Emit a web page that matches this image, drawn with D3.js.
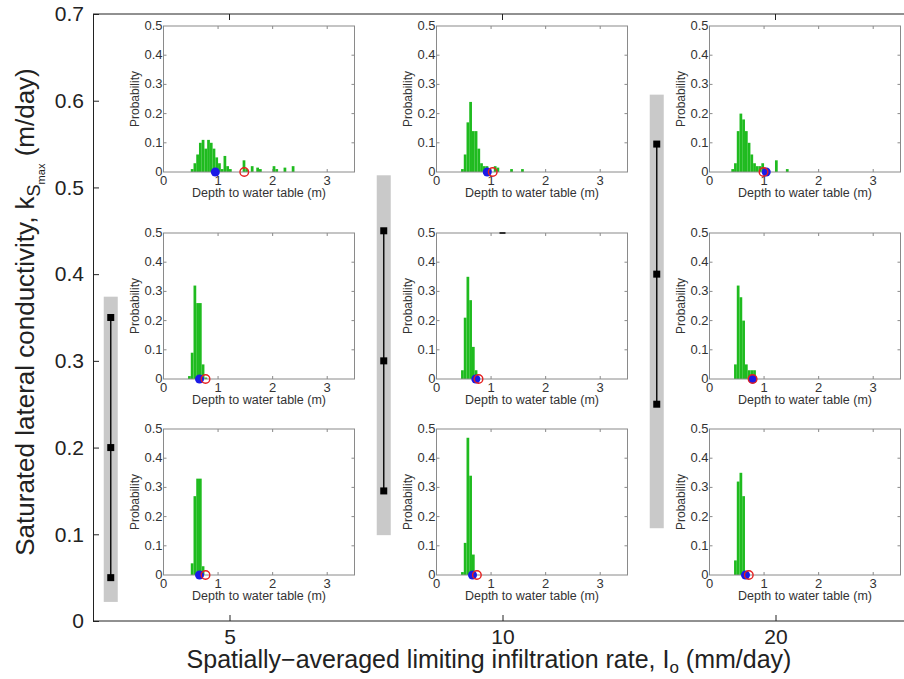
<!DOCTYPE html>
<html>
<head>
<meta charset="utf-8">
<script src="https://cdn.jsdelivr.net/npm/d3@7/dist/d3.min.js"></script>
<style>
body{margin:0;background:#fff}
svg{display:block;font-family:"Liberation Sans",Arial,Helvetica,sans-serif}
</style>
</head>
<body>
<script>
// main axes: limiting infiltration rate categories and ks ticks
var rates = ['5', '10', '20'];
var ksTicks = [0, 0.1, 0.2, 0.3, 0.4, 0.5, 0.6, 0.7];

// ks range for each rate (square markers) and the grey band behind it
var ksLow  = [0.05, 0.15, 0.25];
var ksMid  = [0.20, 0.30, 0.40];
var ksHigh = [0.35, 0.45, 0.55];
var bandLow  = [0.022, 0.099, 0.107];
var bandHigh = [0.374, 0.514, 0.607];

// histograms of depth to water table: [bin left edge (m), probability]
var binWidth = 0.05;
var hist5Top = [[0.50,0.01],[0.55,0.03],[0.60,0.06],[0.65,0.10],[0.70,0.11],[0.75,0.08],[0.80,0.11],[0.85,0.10],
                [0.90,0.08],[0.95,0.05],[1.00,0.03],[1.05,0.01],[1.10,0.055],[1.15,0.02],[1.20,0.01],[1.45,0.04],
                [1.50,0.01],[1.60,0.02],[1.70,0.015],[1.75,0.01],[2.00,0.02],[2.05,0.01],[2.20,0.015],[2.35,0.02]];
var hist5Mid = [[0.45,0.01],[0.50,0.09],[0.55,0.32],[0.60,0.26],[0.65,0.26],[0.70,0.05],[0.75,0.005]];
var hist5Bot = [[0.50,0.04],[0.55,0.27],[0.60,0.33],[0.65,0.33],[0.70,0.03]];
var hist10Top = [[0.45,0.01],[0.50,0.06],[0.55,0.17],[0.60,0.24],[0.65,0.14],[0.70,0.14],[0.75,0.08],[0.80,0.03],
                 [0.85,0.02],[0.90,0.02],[0.95,0.01],[1.05,0.02],[1.10,0.015],[1.35,0.01],[1.55,0.01]];
var hist10Mid = [[0.45,0.03],[0.50,0.21],[0.55,0.35],[0.60,0.27],[0.65,0.11],[0.70,0.03]];
var hist10Bot = [[0.45,0.01],[0.50,0.11],[0.55,0.47],[0.60,0.34],[0.65,0.07]];
var hist20Top = [[0.40,0.01],[0.45,0.03],[0.50,0.14],[0.55,0.20],[0.60,0.18],[0.65,0.14],[0.70,0.10],[0.75,0.06],
                 [0.80,0.03],[0.85,0.02],[0.90,0.02],[0.95,0.03],[1.00,0.01],[1.20,0.04],[1.40,0.01]];
var hist20Mid = [[0.45,0.05],[0.50,0.32],[0.55,0.28],[0.60,0.20],[0.65,0.05],[0.70,0.03],[0.75,0.03],[0.80,0.03]];
var hist20Bot = [[0.45,0.05],[0.50,0.32],[0.55,0.35],[0.60,0.27],[0.65,0.01]];

// filled blue and open red markers on each histogram (m), rows top->bottom, columns 5,10,20
var blueDepth = [[0.95, 0.93, 1.04], [0.66, 0.72, 0.79], [0.66, 0.66, 0.66]];
var redDepth  = [[1.48, 1.03, 0.99], [0.77, 0.77, 0.79], [0.77, 0.74, 0.72]];

var histTicksX = [0, 1, 2, 3];
var histTicksY = [0, 0.1, 0.2, 0.3, 0.4, 0.5];

var hists = [[hist5Top, hist10Top, hist20Top], [hist5Mid, hist10Mid, hist20Mid], [hist5Bot, hist10Bot, hist20Bot]];

var width = 904, height = 679;
var svg = d3.select('body').append('svg').attr('width', width).attr('height', height);

var plotLeft = 93, plotTop = 14, plotBottom = 621;
var xScale = d3.scaleLinear().domain([0.5, 3.5]).range([plotLeft, 912]);
var yScale = d3.scaleLinear().domain([0, 0.7]).range([plotBottom, plotTop]);

// main box: left axis, bottom axis, top line
var yAxis = d3.axisLeft(yScale).tickValues(ksTicks).tickSize(-6).tickSizeOuter(0).tickPadding(9)
    .tickFormat(d => d === 0 ? '0' : d3.format('.1f')(d));
var gy = svg.append('g').attr('transform', `translate(${plotLeft},0)`).call(yAxis);
gy.selectAll('text').attr('font-size', 21).attr('fill', '#222');

var xAxis = d3.axisBottom(xScale).tickValues([1, 2, 3]).tickSize(-6).tickSizeOuter(0).tickPadding(8)
    .tickFormat((d, i) => rates[i]);
var gx = svg.append('g').attr('transform', `translate(0,${plotBottom})`).call(xAxis);
gx.selectAll('text').attr('font-size', 21).attr('fill', '#222');
gx.select('.domain').attr('d', `M${plotLeft},0H${width}`);

svg.append('line').attr('x1', plotLeft).attr('x2', width).attr('y1', plotTop).attr('y2', plotTop).attr('stroke', '#222');
svg.selectAll('.topTick').data([1, 2, 3]).enter().append('line')
    .attr('x1', d => xScale(d)).attr('x2', d => xScale(d))
    .attr('y1', plotTop).attr('y2', plotTop + 6).attr('stroke', '#222');
svg.selectAll('.domain, .tick line').attr('stroke', '#222');

// grey bands with ks range
var barOffset = -0.435;
var bands = svg.append('g');
rates.forEach(function(r, i) {
    var cx = xScale(i + 1 + barOffset);
    bands.append('rect').attr('x', cx - 7).attr('width', 14)
        .attr('y', yScale(bandHigh[i])).attr('height', yScale(bandLow[i]) - yScale(bandHigh[i]))
        .attr('fill', '#c9c9c9');
    bands.append('line').attr('x1', cx).attr('x2', cx)
        .attr('y1', yScale(ksHigh[i])).attr('y2', yScale(ksLow[i]))
        .attr('stroke', '#111').attr('stroke-width', 1.5);
    [ksLow[i], ksMid[i], ksHigh[i]].forEach(function(k) {
        bands.append('rect').attr('x', cx - 3.5).attr('y', yScale(k) - 3.5)
            .attr('width', 7).attr('height', 7).attr('fill', '#000');
    });
});

// inset histograms
var insetTop = [26, 233, 429];
var insetH = 146, insetW = 191, insetShift = -66;

function drawInset(row, col) {
    var x0 = xScale(col + 1) + insetShift;
    var y0 = insetTop[row];
    var ix = d3.scaleLinear().domain([0, 3.5]).range([x0, x0 + insetW]);
    var iy = d3.scaleLinear().domain([0, 0.5]).range([y0 + insetH, y0]);
    var g = svg.append('g');

    g.selectAll('rect.bar').data(hists[row][col]).enter().append('rect')
        .attr('x', d => ix(d[0]))
        .attr('width', d => ix(d[0] + binWidth) - ix(d[0]))
        .attr('y', d => iy(d[1]))
        .attr('height', d => iy(0) - iy(d[1]))
        .attr('fill', '#1fbb1f');

    // box + inward ticks on all sides
    g.append('rect').attr('x', x0).attr('y', y0).attr('width', insetW).attr('height', insetH)
        .attr('fill', 'none').attr('stroke', '#8a8a8a').attr('stroke-width', 1);
    histTicksX.slice(1).forEach(function(t) {
        g.append('line').attr('x1', ix(t)).attr('x2', ix(t)).attr('y1', iy(0)).attr('y2', iy(0) - 3).attr('stroke', '#8a8a8a');
        g.append('line').attr('x1', ix(t)).attr('x2', ix(t)).attr('y1', iy(0.5)).attr('y2', iy(0.5) + 3).attr('stroke', '#8a8a8a');
    });
    histTicksY.slice(1, -1).forEach(function(t) {
        g.append('line').attr('x1', ix(0)).attr('x2', ix(0) + 3).attr('y1', iy(t)).attr('y2', iy(t)).attr('stroke', '#8a8a8a');
        g.append('line').attr('x1', ix(3.5)).attr('x2', ix(3.5) - 3).attr('y1', iy(t)).attr('y2', iy(t)).attr('stroke', '#8a8a8a');
    });

    g.selectAll('text.xt').data(histTicksX).enter().append('text')
        .attr('x', d => ix(d)).attr('y', iy(0) + 13).attr('text-anchor', 'middle')
        .attr('font-size', 13).attr('fill', '#333').text(d => d);
    g.selectAll('text.yt').data(histTicksY).enter().append('text')
        .attr('x', ix(0) - 1).attr('y', d => iy(d) + 4).attr('text-anchor', 'end')
        .attr('font-size', 13).attr('fill', '#333').text(d => d === 0 ? '0' : d3.format('.1f')(d));
    g.append('text').attr('x', (ix(0) + ix(3.5)) / 2).attr('y', iy(0) + 25).attr('text-anchor', 'middle')
        .attr('font-size', 12.5).attr('fill', '#333').text('Depth to water table (m)');
    g.append('text').attr('transform', `translate(${ix(0) - 25},${(iy(0) + iy(0.5)) / 2}) rotate(-90)`)
        .attr('text-anchor', 'middle').attr('font-size', 12).attr('fill', '#333').text('Probability');

    g.append('circle').attr('cx', ix(blueDepth[row][col])).attr('cy', iy(0)).attr('r', 4.5)
        .attr('fill', '#1a1ae6');
    g.append('circle').attr('cx', ix(redDepth[row][col])).attr('cy', iy(0)).attr('r', 4.3)
        .attr('fill', 'none').attr('stroke', '#e62020').attr('stroke-width', 1.4);
}
for (var r = 0; r < 3; r++) for (var c = 0; c < 3; c++) drawInset(r, c);

// stray short dash at top of centre inset
svg.append('line').attr('x1', xScale(2) - 3).attr('x2', xScale(2) + 3)
    .attr('y1', insetTop[1]).attr('y2', insetTop[1]).attr('stroke', '#000').attr('stroke-width', 1.5);

// axis titles
var yl = svg.append('text').attr('transform', 'translate(34,312) rotate(-90)')
    .attr('text-anchor', 'middle').attr('font-size', 26).attr('fill', '#222');
yl.append('tspan').text('Saturated lateral conductivity, k');
yl.append('tspan').attr('font-size', 18).attr('dy', 6).text('S');
yl.append('tspan').attr('font-size', 11).attr('dy', 5).text('max');
yl.append('tspan').attr('dy', -11).text(' (m/day)');

var xl = svg.append('text').attr('x', 489).attr('y', 668)
    .attr('text-anchor', 'middle').attr('font-size', 25).attr('fill', '#222');
xl.append('tspan').text('Spatially\u2212averaged limiting infiltration rate, I');
xl.append('tspan').attr('font-size', 17).attr('dy', 5).text('o');
xl.append('tspan').attr('dy', -5).text(' (mm/day)');
</script>
</body>
</html>
